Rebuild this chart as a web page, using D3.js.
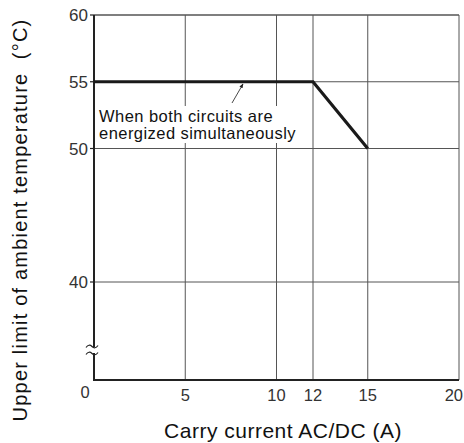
<!DOCTYPE html>
<html lang="en">
<head>
    <meta charset="UTF-8">
    <script type="text/javascript" src="https://d3js.org/d3.v7.min.js"></script>
    <style>
        body { margin: 0; background: #fff; }
        text { font-family: "Liberation Sans", Arial, sans-serif; }
    </style>
</head>
<body>
    <script type="text/javascript">
        const width = 464;
        const height = 443;

        // data
        const currentA = [0, 12, 15];
        const tempLimit = [55, 55, 50];
        const xTicks = [5, 10, 12, 15, 20];
        const yTicks = [40, 50, 55, 60];
        const yGrid = [40, 50, 55, 60];
        const noteLines = ['When both circuits are', 'energized simultaneously'];

        const svg = d3.select('body')
            .append('svg')
            .attr('width', width)
            .attr('height', height);

        const x = d3.scaleLinear()
            .domain([0, 20])
            .range([94, 459]);

        // broken axis: 0 sits just below the break, 40..60 is linear
        const y = d3.scaleLinear()
            .domain([0, 40, 60])
            .range([380, 282, 15]);

        const gridColor = '#555';

        // vertical grid lines
        svg.append('g').selectAll('line')
            .data(xTicks)
            .enter()
            .append('line')
            .attr('x1', d => x(d))
            .attr('x2', d => x(d))
            .attr('y1', y(60))
            .attr('y2', y(0))
            .attr('stroke', gridColor)
            .attr('stroke-width', 1);

        // horizontal grid lines
        svg.append('g').selectAll('line')
            .data(yGrid)
            .enter()
            .append('line')
            .attr('x1', x(0))
            .attr('x2', x(20))
            .attr('y1', d => y(d))
            .attr('y2', d => y(d))
            .attr('stroke', gridColor)
            .attr('stroke-width', d => d === 60 ? 1.5 : 1);

        // axes lines
        svg.append('line')
            .attr('x1', x(0)).attr('x2', x(0))
            .attr('y1', y(60)).attr('y2', y(0))
            .attr('stroke', '#222').attr('stroke-width', 2);
        svg.append('line')
            .attr('x1', x(0) - 1).attr('x2', x(20))
            .attr('y1', y(0)).attr('y2', y(0))
            .attr('stroke', '#222').attr('stroke-width', 2);

        // y tick marks
        svg.append('g').selectAll('line')
            .data(yTicks)
            .enter()
            .append('line')
            .attr('x1', x(0) - 4)
            .attr('x2', x(0))
            .attr('y1', d => y(d))
            .attr('y2', d => y(d))
            .attr('stroke', '#222')
            .attr('stroke-width', 1.2);

        // axis break
        const breakY = 350;
        svg.append('rect')
            .attr('x', x(0) - 3).attr('y', breakY - 3)
            .attr('width', 6).attr('height', 6)
            .attr('fill', '#fff');
        [-3.5, 3.5].forEach(off => {
            svg.append('path')
                .attr('d', `M${x(0) - 8},${breakY + off + 1} q3,-4 6,-1 q3,3 6,-1`)
                .attr('fill', 'none')
                .attr('stroke', '#222')
                .attr('stroke-width', 1.2);
        });

        // y tick labels
        svg.append('g').selectAll('text')
            .data(yTicks)
            .enter()
            .append('text')
            .attr('x', x(0) - 6)
            .attr('y', d => y(d))
            .attr('dy', '0.36em')
            .attr('text-anchor', 'end')
            .attr('font-size', 17)
            .attr('fill', '#333')
            .text(d => d);

        // x tick labels
        svg.append('g').selectAll('text')
            .data(xTicks)
            .enter()
            .append('text')
            .attr('x', d => d === 20 ? x(d) + 4 : x(d))
            .attr('y', 401)
            .attr('text-anchor', d => d === 20 ? 'end' : 'middle')
            .attr('font-size', 16.5)
            .attr('fill', '#333')
            .text(d => d);

        // origin label
        svg.append('text')
            .attr('x', x(0) - 9)
            .attr('y', 398)
            .attr('text-anchor', 'middle')
            .attr('font-size', 16.5)
            .attr('fill', '#333')
            .text('0');

        // annotation
        const note = svg.append('g');
        const noteBg = note.append('rect')
            .attr('fill', '#fff');
        note.selectAll('text')
            .data(noteLines)
            .enter()
            .append('text')
            .attr('x', 99)
            .attr('y', (d, i) => 122 + i * 17)
            .attr('font-size', 16.5)
            .attr('letter-spacing', 0.45)
            .attr('fill', '#111')
            .text(d => d);
        const bb = note.node().getBBox();
        noteBg.attr('x', bb.x - 2).attr('y', bb.y - 1)
            .attr('width', bb.width + 2).attr('height', bb.height + 2);

        // leader arrow
        svg.append('defs').append('marker')
            .attr('id', 'arrow')
            .attr('viewBox', '0 0 10 10')
            .attr('refX', 9).attr('refY', 5)
            .attr('markerWidth', 5).attr('markerHeight', 5)
            .attr('orient', 'auto')
            .append('path')
            .attr('d', 'M0,1 L10,5 L0,9 Z')
            .attr('fill', '#222');
        svg.append('line')
            .attr('x1', 232).attr('y1', 103)
            .attr('x2', 243).attr('y2', 84)
            .attr('stroke', '#333')
            .attr('stroke-width', 0.9)
            .attr('marker-end', 'url(#arrow)');

        // derating curve
        const line = d3.line()
            .x(d => x(d[0]))
            .y(d => y(d[1]));
        svg.append('path')
            .datum(currentA.map((c, i) => [c, tempLimit[i]]))
            .attr('d', line)
            .attr('fill', 'none')
            .attr('stroke', '#1a1a1a')
            .attr('stroke-width', 3.2)
            .attr('stroke-linejoin', 'miter');

        // axis titles
        svg.append('text')
            .attr('x', 283)
            .attr('y', 438)
            .attr('text-anchor', 'middle')
            .attr('font-size', 21)
            .attr('letter-spacing', 0.5)
            .attr('fill', '#111')
            .text('Carry current AC/DC (A)');

        svg.append('text')
            .attr('transform', 'translate(27,220) rotate(-90)')
            .attr('text-anchor', 'middle')
            .attr('font-size', 20)
            .attr('letter-spacing', 1.2)
            .attr('fill', '#111')
            .style('white-space', 'pre')
            .text('Upper limit of ambient temperature  (°C)');
    </script>
</body>
</html>
